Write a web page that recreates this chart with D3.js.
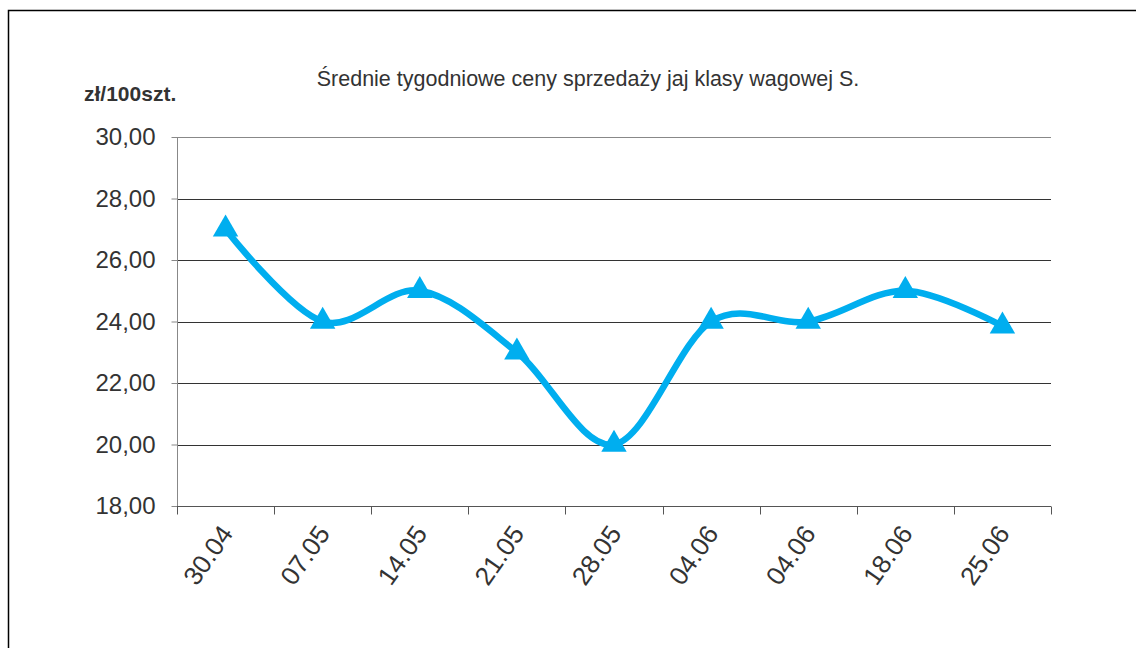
<!DOCTYPE html>
<html><head><meta charset="utf-8">
<script src="https://cdn.jsdelivr.net/npm/d3@7/dist/d3.min.js"></script>
<style>body{margin:0;background:#fff}svg{display:block}</style>
</head><body>
<svg id="c" width="1136" height="648"></svg>
<script>
const categories = ["30.04","07.05","14.05","21.05","28.05","04.06","04.06","18.06","25.06"];
const values = [27.0, 24.0, 25.0, 23.0, 20.0, 24.0, 24.0, 25.0, 23.85];
const yTicks = [18, 20, 22, 24, 26, 28, 30];
const title = "Średnie tygodniowe ceny sprzedaży jaj klasy wagowej S.";
const yLabel = "zł/100szt.";

const svg = d3.select("#c");
const font = "'Liberation Sans', Arial, sans-serif";
// frame
svg.append("path").attr("d","M8.5,648 V10.5 H1136").attr("fill","none").attr("stroke","#000").attr("stroke-width",1.5);

const L=177, R=1051, T=137, B=506;
const x = d3.scaleBand().domain(d3.range(categories.length)).range([L,R]);
const y = d3.scaleLinear().domain([18,30]).range([B,T]);

// gridlines
svg.append("g").selectAll("line").data(yTicks.slice(1)).join("line")
  .attr("x1",L).attr("x2",R).attr("y1",d=>Math.round(y(d))+0.5).attr("y2",d=>Math.round(y(d))+0.5)
  .attr("stroke",d=>d===30?"#888":"#333").attr("stroke-width",1);

// y axis
const ya = svg.append("g").attr("transform",`translate(${L+0.5},0)`)
  .call(d3.axisLeft(y).tickValues(yTicks).tickSize(6).tickPadding(16).tickFormat(d=>d3.format(".2f")(d).replace(".",",")));
ya.select(".domain").attr("stroke","#888").attr("d",`M0,${T}V${B}`);
ya.selectAll(".tick line").attr("stroke","#888");
ya.selectAll("text").attr("font-family",font).attr("font-size",24).attr("fill","#333");

// x axis
const xa = svg.append("g").attr("transform",`translate(0,${Math.round(B)+0.5})`);
xa.append("line").attr("x1",L).attr("x2",R).attr("stroke","#555");
const edges = d3.range(categories.length+1).map(i=> i<categories.length ? x(i) : R);
xa.selectAll("line.t").data(edges).join("line").attr("class","t")
  .attr("x1",d=>Math.round(d)+0.5).attr("x2",d=>Math.round(d)+0.5).attr("y1",0).attr("y2",8).attr("stroke","#555");
xa.selectAll("text").data(categories).join("text")
  .attr("transform",(d,i)=>`translate(${x(i)+x.bandwidth()/2+1},${22}) rotate(-55)`)
  .attr("text-anchor","end").attr("dy","0.35em")
  .attr("font-family",font).attr("font-size",26).attr("fill","#333").text(d=>d);

// line
const pts = values.map((v,i)=>[x(i)+x.bandwidth()/2, y(v)]);
svg.append("path").attr("d", d3.line().curve(d3.curveCardinal.tension(0))(pts))
  .attr("fill","none").attr("stroke","#00AEEF").attr("stroke-width",6.5).attr("stroke-linejoin","round");
const tri = d3.symbol().type(d3.symbolTriangle).size(280);
svg.append("g").selectAll("path").data(pts).join("path")
  .attr("transform",d=>`translate(${d[0]},${d[1]})`).attr("d",tri).attr("fill","#00AEEF");

// texts
svg.append("text").attr("x",588).attr("y",86).attr("text-anchor","middle")
  .attr("font-family",font).attr("font-size",21.5).attr("fill","#333").text(title);
svg.append("text").attr("x",84).attr("y",101)
  .attr("font-family",font).attr("font-size",21).attr("font-weight","bold").attr("fill","#333").text(yLabel);
</script>
</body></html>
